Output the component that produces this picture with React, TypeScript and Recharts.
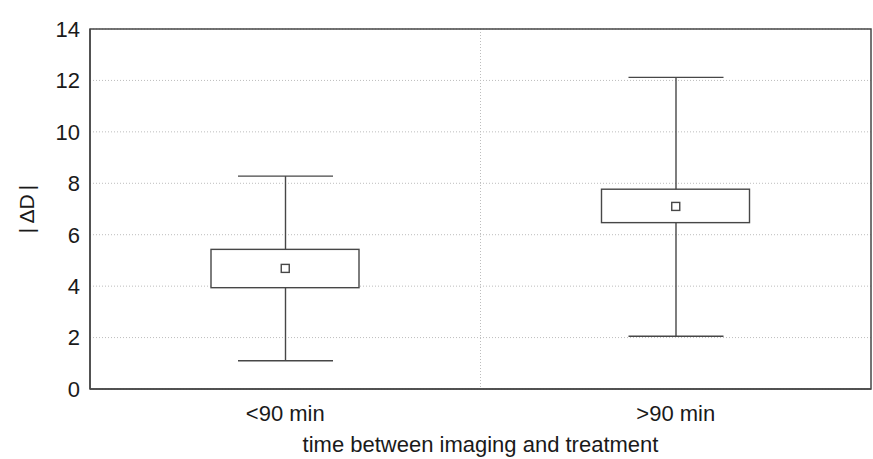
import React from 'react';
import {
  ComposedChart,
  Bar,
  Scatter,
  XAxis,
  YAxis,
  CartesianGrid,
  ReferenceArea,
} from 'recharts';

// Groups and their box-plot statistics for |ΔD|
const categories = ['<90 min', '>90 min'];
const whiskerLow = [1.1, 2.05];
const boxLow = [3.94, 6.47];
const boxHigh = [5.43, 7.77];
const whiskerHigh = [8.28, 12.12];
const means = [4.69, 7.1];
const yTicks = [0, 2, 4, 6, 8, 10, 12, 14];

const rows = categories.map((name, i) => ({
  name,
  whisker: [whiskerLow[i], whiskerHigh[i]],
  box: [boxLow[i], boxHigh[i]],
  mean: means[i],
}));

const INK = '#474747';
const FONT = 'Arial, "Liberation Sans", sans-serif';

// Vertical stem with caps spanning the whisker range
const WhiskerShape = (props: any) => {
  const { x, y, width, height } = props;
  const top = Math.min(y, y + height);
  const bottom = Math.max(y, y + height);
  const cx = x + width / 2;
  return (
    <g stroke={INK} strokeWidth={1.4}>
      <line x1={cx} x2={cx} y1={top} y2={bottom} />
      <line x1={x} x2={x + width} y1={top} y2={top} />
      <line x1={x} x2={x + width} y1={bottom} y2={bottom} />
    </g>
  );
};

// Interquartile box, white so the stem does not show through
const BoxShape = (props: any) => {
  const { x, y, width, height } = props;
  const top = Math.min(y, y + height);
  return (
    <rect
      x={x}
      y={top}
      width={width}
      height={Math.abs(height)}
      fill="#ffffff"
      stroke={INK}
      strokeWidth={1.4}
    />
  );
};

// Small open square for the mean
const MeanShape = (props: any) => {
  const { cx, cy } = props;
  return (
    <rect
      x={cx - 4}
      y={cy - 4}
      width={8}
      height={8}
      fill="#ffffff"
      stroke={INK}
      strokeWidth={1.4}
    />
  );
};

export default function App() {
  return (
    <div style={{ position: 'absolute', left: 0, top: 0, background: '#fff' }}>
      <ComposedChart
        width={873}
        height={459}
        data={rows}
        margin={{ top: 29, right: 2, left: 0, bottom: 0 }}
      >
        <CartesianGrid
          stroke="#bdbdbd"
          strokeDasharray="1 2"
          verticalCoordinatesGenerator={({ offset }: any) => [
            offset.left + offset.width / 2,
          ]}
        />
        <XAxis
          xAxisId="aux"
          dataKey="name"
          type="category"
          orientation="top"
          height={0}
          hide
        />
        <XAxis
          xAxisId="main"
          dataKey="name"
          type="category"
          height={70}
          tickLine={false}
          tickSize={8}
          tickMargin={8}
          axisLine={{ stroke: INK, strokeWidth: 1.5 }}
          tick={{ fill: '#1a1a1a', fontSize: 22, fontFamily: FONT }}
          label={{
            value: 'time between imaging and treatment',
            position: 'insideBottom',
            offset: 7,
            fill: '#1a1a1a',
            fontSize: 22,
            fontFamily: FONT,
          }}
        />
        <YAxis
          domain={[0, 14]}
          ticks={yTicks}
          width={90}
          tickLine={false}
          tickSize={6}
          tickMargin={4}
          axisLine={{ stroke: INK, strokeWidth: 1.5 }}
          tick={{ fill: '#1a1a1a', fontSize: 22, fontFamily: FONT }}
          label={{
            value: '|\u2009ΔD\u2009|',
            angle: -90,
            position: 'insideLeft',
            offset: 27,
            fill: '#1a1a1a',
            fontSize: 21,
            fontFamily: FONT,
            style: { textAnchor: 'middle' },
          }}
        />
        <Bar
          xAxisId="aux"
          dataKey="whisker"
          barSize={95}
          shape={<WhiskerShape />}
          isAnimationActive={false}
        />
        <Bar
          xAxisId="main"
          dataKey="box"
          barSize={148}
          shape={<BoxShape />}
          isAnimationActive={false}
        />
        <Scatter
          xAxisId="main"
          dataKey="mean"
          shape={<MeanShape />}
          isAnimationActive={false}
        />
        <ReferenceArea
          xAxisId="main"
          x1={categories[0]}
          x2={categories[categories.length - 1]}
          y1={0}
          y2={14}
          fill="none"
          fillOpacity={0}
          stroke={INK}
          strokeWidth={1.5}
        />
      </ComposedChart>
    </div>
  );
}
